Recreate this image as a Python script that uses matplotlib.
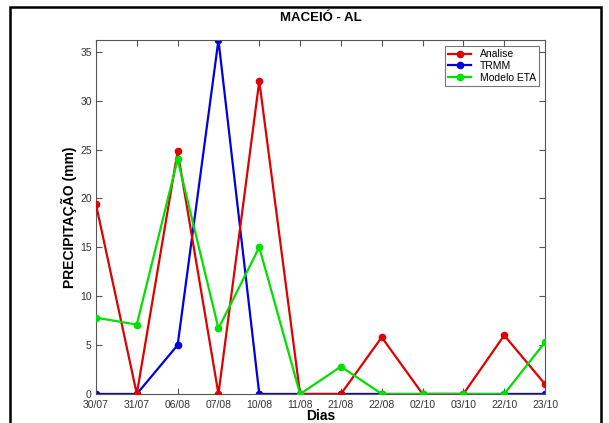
import matplotlib
matplotlib.use("Agg")
import matplotlib.pyplot as plt
from matplotlib.patches import Rectangle

dias = ["30/07", "31/07", "06/08", "07/08", "10/08", "11/08", "21/08", "22/08",
        "02/10", "03/10", "22/10", "23/10"]
analise = [19.4, 0, 24.8, 0, 32.0, 0, 0, 5.8, 0, 0, 6.0, 1.0]
trmm = [0, 0, 5.0, 36.2, 0, 0, 0, 0, 0, 0, 0, 0]
eta = [7.8, 7.1, 24.0, 6.7, 15.0, 0, 2.8, 0, 0, 0, 0, 5.3]

plt.rcParams['font.family'] = ['Liberation Sans', 'DejaVu Sans']

fig = plt.figure(figsize=(6.09, 4.23), dpi=100)
ax = fig.add_axes([0.1576, 0.0686, 0.7374, 0.8368])

x = list(range(len(dias)))
ax.plot(x, analise, color='#e00000', lw=1.6, marker='o', ms=4.5, label='Analise', zorder=3)
ax.plot(x, trmm, color='#0000e0', lw=1.6, marker='o', ms=4.5, label='TRMM', zorder=2)
ax.plot(x, eta, color='#00e000', lw=1.6, marker='o', ms=4.5, label='Modelo ETA', zorder=4)

ax.set_xlim(0, len(dias) - 1)
ax.set_ylim(0, 36.2)
ax.set_xticks(x)
ax.set_xticklabels(dias)
ax.set_yticks([0, 5, 10, 15, 20, 25, 30, 35])
ax.tick_params(direction='in', top=True, right=True, labelsize=7.5,
               labelcolor='#333333', color='#555555', length=4, pad=3)
ax.tick_params(axis='x', pad=4.5)
for s in ax.spines.values():
    s.set_color('#555555')
    s.set_linewidth(0.8)

ax.set_title('MACEIÓ - AL', fontsize=9.5, fontweight='bold', pad=14)
ax.set_ylabel('PRECIPITAÇÃO (mm)', fontsize=10, fontweight='bold', labelpad=2)
ax.set_xlabel('Dias', fontsize=10, fontweight='bold', labelpad=-1)

leg = ax.legend(loc='upper right', fontsize=7.5, frameon=True, fancybox=False,
                borderaxespad=0.6, handlelength=2.2, labelspacing=0.15,
                borderpad=0.3, edgecolor='#555555')
leg.get_frame().set_linewidth(0.8)

fig.patches.append(Rectangle((10/609, -0.05), 591/609, 1 - 7/423 + 0.05,
                             transform=fig.transFigure, fill=False,
                             edgecolor='black', lw=1.8))

fig.savefig('out.png', dpi=100)
